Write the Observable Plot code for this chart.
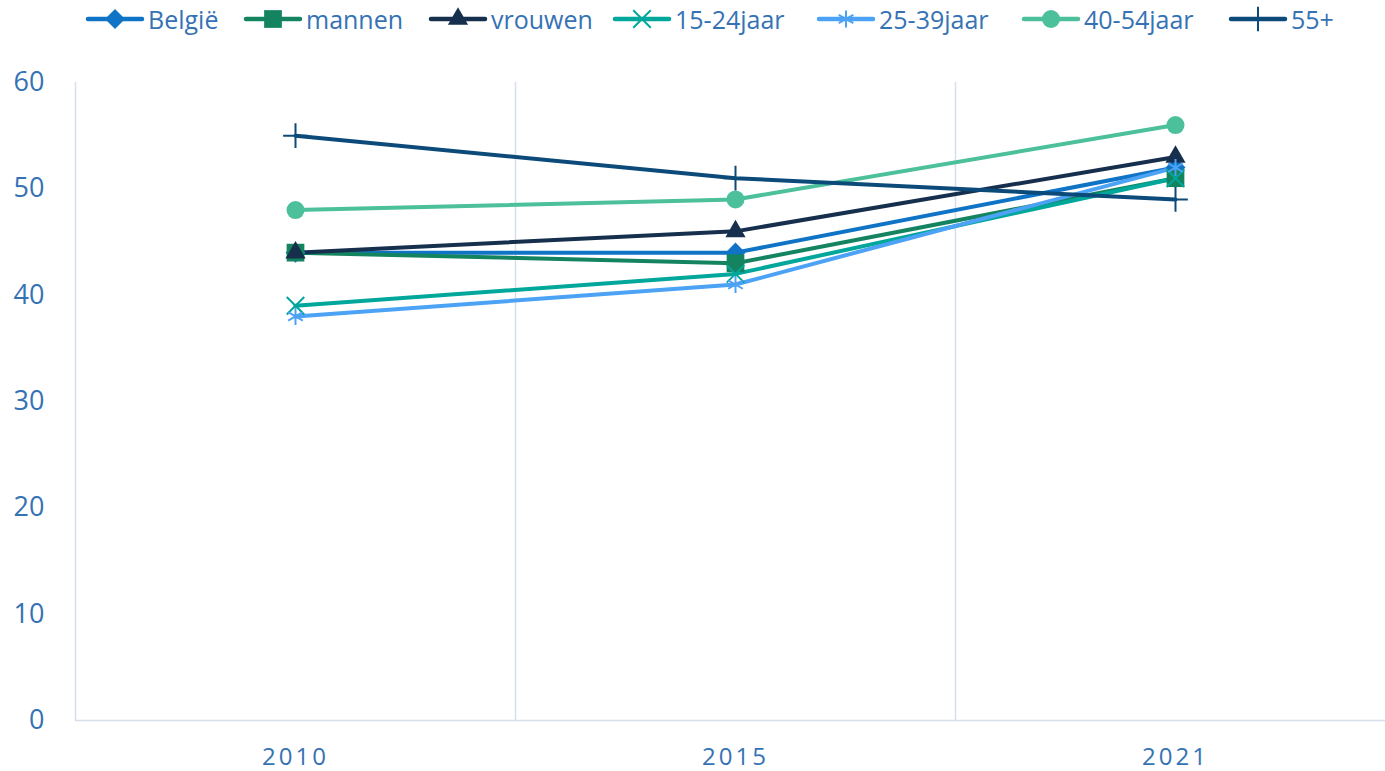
<!DOCTYPE html>
<html><head><meta charset="utf-8">
<script src="https://cdn.jsdelivr.net/npm/d3@7"></script>
<script src="https://cdn.jsdelivr.net/npm/@observablehq/plot@0.6"></script>
<style>
html,body{margin:0;padding:0;background:#fff;overflow:hidden;width:1385px;height:771px}
#wrap{position:relative;width:1385px;height:771px;overflow:hidden;background:#fff}
#legend{position:absolute;z-index:2;left:0;top:1px;width:1385px;height:40px;font-family:"Open Sans",sans-serif;font-size:25px;color:#3572B4;white-space:nowrap}
#legend .item{position:absolute;top:0;display:flex;align-items:center}
#legend svg{margin-right:3px}
#chart{position:absolute;left:0;top:0;z-index:1}
#chart svg{max-width:none}
</style></head>
<body><div id="wrap"><div id="legend"></div><div id="chart"></div></div>
<script>
const years = ["2010", "2015", "2021"];
const seriesNames = ["België", "mannen", "vrouwen", "15-24jaar", "25-39jaar", "40-54jaar", "55+"];
const belgie = [44, 44, 52];
const mannen = [44, 43, 51];
const vrouwen = [44, 46, 53];
const jaar15_24 = [39, 42, 51];
const jaar25_39 = [38, 41, 52];
const jaar40_54 = [48, 49, 56];
const plus55 = [55, 51, 49];
const yTicks = [0, 10, 20, 30, 40, 50, 60];

// layout only: left edge of each legend entry (px)
const legendLeft = [85, 243, 428, 612, 816, 1021, 1228];

const colors = ["#0F73C6", "#148360", "#152F4D", "#00A79A", "#4CA2F4", "#4CBF9B", "#0C4A7A"];
const squareDiamond = {draw(ctx, size) { const h = Math.sqrt(size / 2); ctx.moveTo(0, -h); ctx.lineTo(h, 0); ctx.lineTo(0, h); ctx.lineTo(-h, 0); ctx.closePath(); }};
const symbols = [squareDiamond, d3.symbolSquare, d3.symbolTriangle, d3.symbolTimes, d3.symbolAsterisk, d3.symbolCircle, d3.symbolPlus];
const filled = [true, true, true, false, false, true, false];
const sizes = [8, 10, 7.5, 8, 8, 9, 8];

const allValues = [belgie, mannen, vrouwen, jaar15_24, jaar25_39, jaar40_54, plus55];
const data = [];
seriesNames.forEach((s, k) => allValues[k].forEach((v, i) => data.push({series: s, year: years[i], idx: i + 0.5, value: v})));

const markSets = [];
seriesNames.forEach((s, k) => {
  const sub = data.filter(d => d.series === s);
  markSets.push(Plot.line(sub, {x: "idx", y: "value", stroke: colors[k], strokeWidth: 4}));
});
seriesNames.forEach((s, k) => {
  const sub = data.filter(d => d.series === s);
  markSets.push(Plot.dot(sub, {x: "idx", y: "value", symbol: () => symbols[k], r: sizes[k],
    fill: filled[k] ? colors[k] : "none", stroke: filled[k] ? "none" : colors[k], strokeWidth: 2}));
});

const chart = Plot.plot({
  width: 1395, height: 771,
  marginLeft: 75, marginRight: 0, marginTop: 82, marginBottom: 51,
  style: {fontFamily: "'Open Sans', sans-serif", fontSize: "27px", color: "#3572B4", background: "#fff", maxWidth: "none"},
  x: {type: "linear", domain: [0, years.length], axis: null},
  y: {domain: [0, 60], axis: null},
  marks: [
    Plot.ruleX(d3.range(0, years.length), {stroke: "#D5DFEA", strokeWidth: 1.5}),
    Plot.ruleY([0], {stroke: "#D5DFEA", strokeWidth: 1.5}),
    Plot.axisY(yTicks, {tickSize: 0, tickPadding: 31, fill: "#3572B4", label: null}),
    Plot.axisX(years.map((y, i) => i + 0.5), {tickSize: 0, tickPadding: 27, fill: "#3572B4", tickFormat: v => years[Math.floor(v)], label: null}),
    ...markSets
  ]
});
chart.querySelectorAll('g[aria-label="x-axis tick label"] text').forEach(t => { t.setAttribute("letter-spacing", "3px"); t.style.fontSize = "24px"; });
chart.querySelectorAll('g[aria-label="y-axis tick label"] text').forEach(t => { t.style.fontSize = "27px"; });
document.getElementById("chart").appendChild(chart);

const leg = document.getElementById("legend");
seriesNames.forEach((s, k) => {
  const item = document.createElement("div");
  item.className = "item";
  item.style.left = legendLeft[k] + "px";
  const ns = "http://www.w3.org/2000/svg";
  const svg = document.createElementNS(ns, "svg");
  svg.setAttribute("width", 60); svg.setAttribute("height", 36);
  const line = document.createElementNS(ns, "line");
  line.setAttribute("x1", 3); line.setAttribute("x2", 57); line.setAttribute("y1", 18); line.setAttribute("y2", 18);
  line.setAttribute("stroke", colors[k]); line.setAttribute("stroke-width", 4.5); line.setAttribute("stroke-linecap", "round");
  svg.appendChild(line);
  const p = document.createElementNS(ns, "path");
  p.setAttribute("d", d3.symbol(symbols[k], Math.PI * sizes[k] * sizes[k])());
  p.setAttribute("transform", "translate(30,18)");
  if (filled[k]) p.setAttribute("fill", colors[k]); else { p.setAttribute("fill", "none"); p.setAttribute("stroke", colors[k]); p.setAttribute("stroke-width", 2); }
  svg.appendChild(p);
  item.appendChild(svg);
  const span = document.createElement("span");
  span.textContent = s;
  item.appendChild(span);
  leg.appendChild(item);
});
</script></body></html>
